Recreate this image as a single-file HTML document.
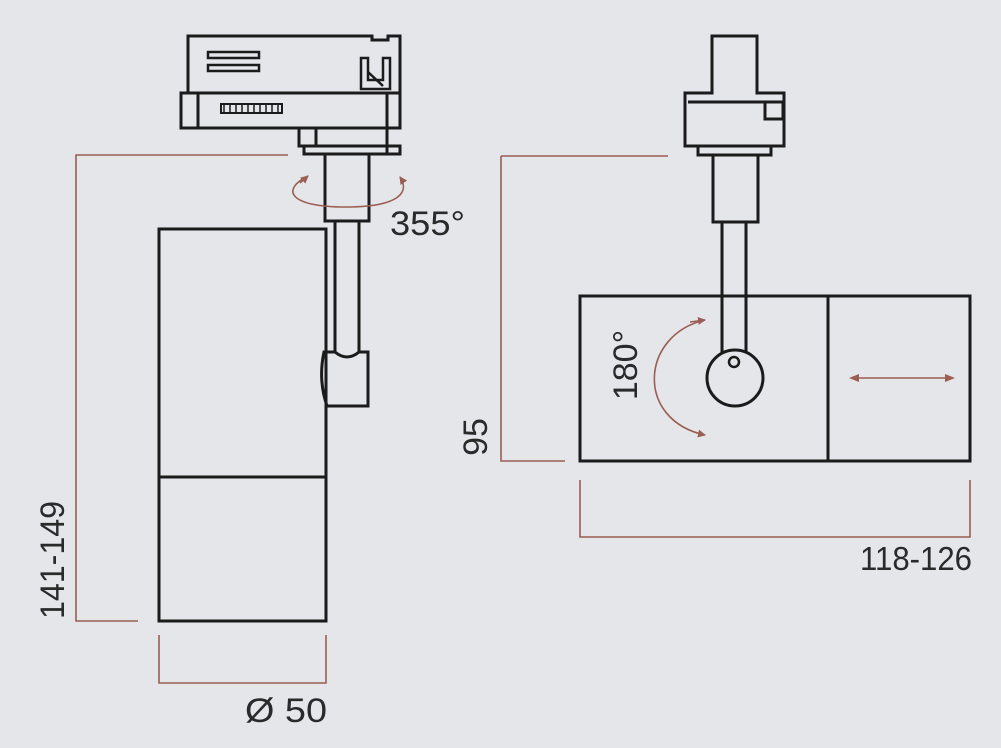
<!DOCTYPE html>
<html><head><meta charset="utf-8"><style>
html,body{margin:0;padding:0;background:#e5e6ea;}
svg{display:block;}
text{font-family:"Liberation Sans",sans-serif;fill:#2a2a2a;}
</style></head><body>
<svg width="1001" height="748" viewBox="0 0 1001 748" xmlns="http://www.w3.org/2000/svg">
<defs>
<marker id="ah" markerWidth="8" markerHeight="8" refX="7" refY="4" orient="auto" markerUnits="userSpaceOnUse"><path d="M0,0 L8,4 L0,8 Z" fill="#9a5e52"/></marker>
<marker id="ahs" markerWidth="10" markerHeight="8" refX="1" refY="4" orient="auto-start-reverse" markerUnits="userSpaceOnUse"><path d="M0,0 L10,4 L0,8 Z" fill="#9a5e52"/></marker>
</defs>
<g fill="none" stroke="#1b1b1b" stroke-width="3">
<path d="M188,36 H372 V40 H388 V36 H400 V93 H188 Z"/>
<rect x="208" y="52" width="51" height="6" stroke-width="2.5"/>
<rect x="208" y="65" width="51" height="6" stroke-width="2.5"/>
<path d="M361,89 V58 H368 V80 H383 V58 H390 V89 Z" stroke-width="2.5"/>
<path d="M368,72 L383,86" stroke-width="2.5"/>
<rect x="181" y="93" width="219" height="35"/>
<line x1="198" y1="93" x2="198" y2="128"/>
<line x1="387" y1="93" x2="387" y2="154"/>
<rect x="221" y="104" width="61" height="9" stroke-width="2"/>
<path d="M224,104v9M230,104v9M236,104v9M242,104v9M248,104v9M254,104v9M260,104v9M266,104v9M272,104v9M278,104v9" stroke-width="1.5"/>
<rect x="299" y="128" width="17" height="18"/>
<rect x="304" y="146" width="96" height="8"/>
<rect x="325" y="154" width="44" height="67"/>
<rect x="159" y="229" width="167" height="392"/>
<line x1="159" y1="477" x2="326" y2="477"/>
<line x1="335" y1="221" x2="335" y2="352"/>
<line x1="359" y1="221" x2="359" y2="352"/>
<path d="M324,352 H335 Q347,362 359,352 H368 V406 H327 Q318,380 324,352 Z"/>
<path d="M712,93 V36 H757 V93 H784 V146 H685 V93 Z"/>
<line x1="688" y1="102" x2="782" y2="102"/>
<rect x="765" y="102" width="18" height="17"/>
<rect x="698" y="146" width="73" height="9"/>
<rect x="713" y="155" width="45" height="67"/>
<line x1="722" y1="222" x2="722" y2="356"/>
<line x1="746" y1="222" x2="746" y2="356"/>
<rect x="580" y="296" width="390" height="165"/>
<line x1="828" y1="296" x2="828" y2="461"/>
<circle cx="735" cy="378" r="28" fill="#e5e6ea"/>
<circle cx="734" cy="362" r="5" stroke-width="2.5"/>
</g>
<g fill="none" stroke="#9a5e52" stroke-width="1.6">
<path d="M288,155 H76 V621 H138"/>
<path d="M159,635 V683 H326 V635"/>
<path d="M501,156 H668 M501,156 V461 H565"/>
<path d="M580,480 V537 H970 V480"/>
<path d="M308,176 C280,190 290,207 345,207 C400,207 410,192 400,177" marker-end="url(#ah)"/>
<path d="M300,183 L308,176" marker-end="url(#ah)"/>
<path d="M705,320 C640,335 635,420 705,435" marker-end="url(#ah)"/>
<path d="M690,322 L705,320" marker-end="url(#ah)"/>
<line x1="858" y1="378" x2="946" y2="378" marker-start="url(#ahs)" marker-end="url(#ahs)"/>
</g>
<text x="390" y="235" font-size="34" textLength="75" lengthAdjust="spacingAndGlyphs">355°</text>
<text x="245" y="722" font-size="34" textLength="82" lengthAdjust="spacingAndGlyphs">Ø 50</text>
<text x="860" y="570" font-size="33" textLength="112" lengthAdjust="spacingAndGlyphs">118-126</text>
<text transform="translate(64,560) rotate(-90)" font-size="34" text-anchor="middle" textLength="118" lengthAdjust="spacingAndGlyphs">141-149</text>
<text transform="translate(487,437) rotate(-90)" font-size="34" text-anchor="middle">95</text>
<text transform="translate(637,365) rotate(-90)" font-size="34" text-anchor="middle">180°</text>
</svg>
</body></html>
